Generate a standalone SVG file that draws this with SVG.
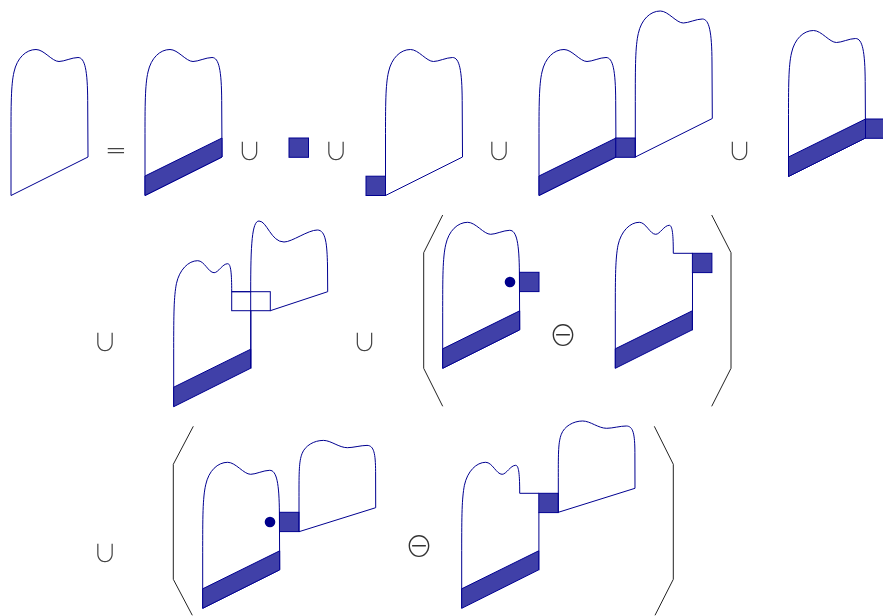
<svg xmlns="http://www.w3.org/2000/svg" width="883" height="616" viewBox="0 0 883 616">
<style>
.s{fill:none;stroke:#000090;stroke-width:1}
.f{fill:#4040a8;stroke:#000090;stroke-width:1}
.p{fill:none;stroke:#222;stroke-width:1}
.d{fill:#00008b}
.e{font-family:"DejaVu Sans ExtraLight","DejaVu Sans",sans-serif;font-weight:200;font-size:26px;fill:#444;text-anchor:middle;filter:url(#g)}
.o{font-family:"Noto Sans CJK JP",sans-serif;font-weight:300;font-size:24px;fill:#444;text-anchor:middle;filter:url(#g)}
.m{font-family:"Noto Sans CJK JP","DejaVu Sans",sans-serif;font-weight:300;font-size:28px;fill:#333;text-anchor:middle;filter:url(#g)}
</style>
<defs>
<filter id="g" x="-20%" y="-20%" width="140%" height="140%" color-interpolation-filters="sRGB"><feOffset dx="0" dy="0"/></filter>
<path id="tooth" class="s" d="M0,0 L0,-55.5 C0,-90.5 0,-110.5 3,-123.5 C6,-137.5 15,-146 25,-146 C33,-146 41,-134 48,-134 C53,-134 61,-138 67,-138 C74,-138 76.5,-125 76.7,-95 L77,-38.5 Z"/>
<path id="cut" class="s" d="M0,0 L0,-58 C0,-93 0.2,-110 2.7,-123 C5.7,-137 14.7,-146 24,-146 C30.7,-146 34.7,-134 40.4,-134 C44.7,-134 48.7,-143 54,-143 C57.2,-143 58,-133 58,-115 L77.2,-115 M77.2,-96 L77.2,-38"/>
<path id="flat" class="s" d="M0,0 L0,-35 C0,-60 0,-70 3,-78 C6,-86 15,-91.3 24.4,-91.3 C32,-91.3 40,-84 48.4,-84 C54,-84 62,-86.3 68,-86.3 C75,-86.3 76.5,-78 76.6,-60 L76.7,-24 Z"/>
<path id="band" class="f" d="M0,0 L77,-38.5 L77,-57.5 L0,-19.5 Z"/>
<rect id="sq" class="f" width="19.5" height="19.3"/>
</defs>
<g id="tooth-a"><use href="#tooth" x="11" y="195.5"/></g>
<g id="eq"><text class="e" x="116" y="159">=</text></g>
<g id="tooth-b"><use href="#tooth" x="145" y="195.5"/><use href="#band" x="145" y="195.5"/></g>
<g id="u1"><text class="o" x="249.500" y="160">∪</text></g>
<g id="sq-a"><use href="#sq" x="289" y="138"/></g>
<g id="u2"><text class="o" x="336" y="160">∪</text></g>
<g id="tooth-c"><use href="#tooth" x="385.500" y="195.5"/><use href="#sq" x="366" y="176.200"/></g>
<g id="u3"><text class="o" x="499" y="160">∪</text></g>
<g id="tooth-d"><use href="#tooth" x="539" y="195.5"/><use href="#band" x="539" y="195.5"/><use href="#sq" x="615.800" y="138"/><use href="#tooth" x="635.300" y="157"/></g>
<g id="u4"><text class="o" x="739.500" y="160">∪</text></g>
<g id="tooth-e"><use href="#tooth" x="788.500" y="176.500"/><use href="#band" x="788.500" y="176.500"/><use href="#sq" x="865.500" y="119"/></g>
<g id="u5"><text class="o" x="105" y="351">∪</text></g>
<g id="tooth-f">
<use href="#cut" x="173.700" y="406.700"/><use href="#band" x="173.700" y="406.700"/>
<rect class="s" x="231.700" y="291.700" width="38.600" height="19"/>
<path class="s" d="M250.700,368 L250.700,290 C250.700,245 252,221 259,221 C267,221 271,242 284,242 C292,242 308,230 317.300,230 C326,230 327,245 327.500,265 L327.700,291.700 L270.300,310.700"/>
</g>
<g id="u6"><text class="o" x="364.500" y="351">∪</text></g>
<g id="paren-a"><path class="p" d="M442.700,215 L423.700,252.700 L423.700,368.300 L442.700,406.300"/><path class="p" d="M711.700,215 L731,252.700 L731,368.300 L711.700,406.300"/></g>
<g id="tooth-g"><use href="#tooth" x="442.700" y="368.300"/><use href="#band" x="442.700" y="368.300"/><use href="#sq" x="519.500" y="272.300"/><circle class="d" cx="510" cy="282" r="5.300"/></g>
<g id="minus1"><text class="m" x="563" y="345.500">⊖</text></g>
<g id="tooth-h"><use href="#cut" x="615.300" y="368.300"/><use href="#band" x="615.300" y="368.300"/><use href="#sq" x="692.400" y="253.300"/></g>
<g id="u7"><text class="o" x="105" y="562">∪</text></g>
<g id="paren-b"><path class="p" d="M193.300,426.300 L173.300,464.300 L173.300,579.300 L192.300,615.300"/><path class="p" d="M654.300,426.300 L673.300,464.300 L673.300,579.300 L655,615.300"/></g>
<g id="tooth-i"><use href="#tooth" x="202.700" y="608.300"/><use href="#band" x="202.700" y="608.300"/><use href="#sq" x="279.500" y="512.300"/><circle class="d" cx="270" cy="522" r="5.300"/><use href="#flat" x="299" y="531.700"/></g>
<g id="minus2"><text class="m" x="419" y="556.500">⊖</text></g>
<g id="tooth-j"><use href="#cut" x="461.700" y="608.300"/><use href="#band" x="461.700" y="608.300"/><use href="#sq" x="538.800" y="493.300"/><use href="#flat" x="558.300" y="512.300"/></g>
</svg>
